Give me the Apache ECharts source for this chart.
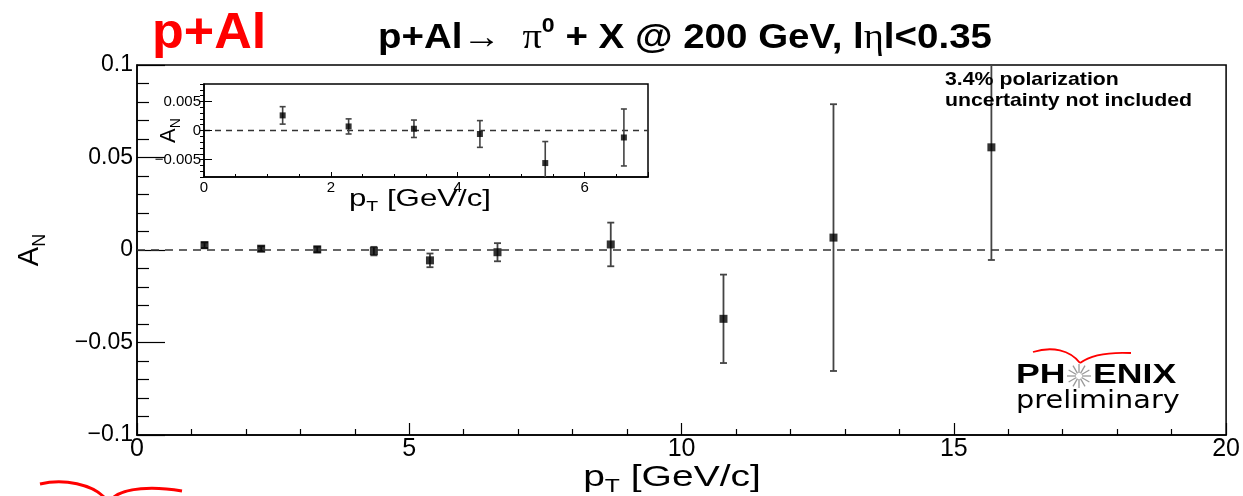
<!DOCTYPE html>
<html>
<head>
<meta charset="utf-8">
<script src="https://cdn.jsdelivr.net/npm/echarts@6/dist/echarts.min.js"></script>
<style>
html,body{margin:0;padding:0;background:#fff;}
#chart{width:1243px;height:496px;}
</style>
</head>
<body>
<div id="chart"></div>
<script>
// ---- data ----
var pt     = [1.24, 2.28, 3.31, 4.35, 5.38, 6.62, 8.70, 10.77, 12.79, 15.69];
var an     = [0.0026, 0.0007, 0.0003, -0.0006, -0.0056, -0.0012, 0.0030, -0.0372, 0.0067, 0.0555];
var anErr  = [0.0015, 0.0013, 0.0015, 0.0023, 0.0037, 0.0049, 0.0118, 0.0239, 0.0721, 0.0609];
var insetCount = 6;                       // first six points shown in the inset
var insetYMajor = [-0.005, 0, 0.005];
var insetYMinor = [-0.008,-0.007,-0.006,-0.005,-0.004,-0.003,-0.002,-0.001,0,0.001,0.002,0.003,0.004,0.005,0.006,0.007,0.008];
var xTitle = '{p|p}{s|T}{p| [GeV/c]}';
var yTitle = '{a|A}{s|N}';

var FONT = '"Liberation Sans", Arial, Helvetica, sans-serif';
function minusFmt(v){ return v < 0 ? '\u2212' + String(Math.abs(v)) : String(v); }

var mainPts = pt.map(function(x,i){ return [x, an[i]]; });
var mainErr = pt.map(function(x,i){ return [x, an[i], anErr[i]]; });
var insPts = mainPts.slice(0, insetCount);
var insErr = mainErr.slice(0, insetCount);

function errRender(cap, width){
  return function(params, api){
    var x = api.value(0), y = api.value(1), e = api.value(2);
    var t = api.coord([x, y + e]), b = api.coord([x, y - e]);
    var st = {stroke:'#444', lineWidth: width};
    return {type:'group', children:[
      {type:'line', shape:{x1:t[0], y1:t[1], x2:b[0], y2:b[1]}, style:st},
      {type:'line', shape:{x1:t[0]-cap, y1:t[1], x2:t[0]+cap, y2:t[1]}, style:st},
      {type:'line', shape:{x1:b[0]-cap, y1:b[1], x2:b[0]+cap, y2:b[1]}, style:st}
    ]};
  };
}

var chart = echarts.init(document.getElementById('chart'), null, {renderer:'canvas'});

// star spokes for PHENIX logo
var star = [];
for (var k = 0; k < 12; k++) {
  var a = k * Math.PI / 6;
  star.push({type:'line', shape:{x1:1079 + 3*Math.cos(a), y1:376 + 3*Math.sin(a), x2:1079 + 12*Math.cos(a), y2:376 + 12*Math.sin(a)}, style:{stroke:'#9a9a9a', lineWidth:1.3}});
}

function subRich(big, small, lh){
  return {p:{font:big + 'px ' + FONT, fill:'#000', lineHeight:lh, verticalAlign:'middle'},
          s:{font:small + 'px ' + FONT, fill:'#000', lineHeight:lh, verticalAlign:'bottom'}};
}

var option = {
  backgroundColor:'#fff',
  animation:false,
  textStyle:{fontFamily:FONT},
  grid:[
    {left:137, right:10, top:65, bottom:61, show:true, borderColor:'#000', borderWidth:1.5, backgroundColor:'#fff'},
    {left:204, top:84, width:444, height:93, show:true, borderColor:'#000', borderWidth:1.5, backgroundColor:'#fff', z:5}
  ],
  xAxis:[
    {gridIndex:0, type:'value', min:0, max:20, interval:5,
     axisLine:{onZero:false, lineStyle:{color:'#000', width:1.5}},
     axisTick:{inside:true, length:12, lineStyle:{color:'#000', width:1.2}},
     minorTick:{show:true, splitNumber:5, length:6, lineStyle:{color:'#000', width:1.2}},
     splitLine:{show:false}, minorSplitLine:{show:false},
     axisLabel:{fontSize:25, color:'#000', margin:2, fontFamily:FONT}},
    {gridIndex:1, type:'value', min:0, max:7, interval:2, z:6,
     axisLine:{onZero:false, lineStyle:{color:'#000', width:1.5}},
     axisTick:{inside:true, length:5, lineStyle:{color:'#000'}},
     minorTick:{show:true, splitNumber:4, length:3, lineStyle:{color:'#000'}},
     splitLine:{show:false},
     axisLabel:{fontSize:15, color:'#000', margin:3, showMaxLabel:false, fontFamily:FONT}}
  ],
  yAxis:[
    {gridIndex:0, type:'value', min:-0.1, max:0.1, interval:0.05,
     axisLine:{onZero:false, lineStyle:{color:'#000', width:1.5}},
     axisTick:{inside:true, length:28, lineStyle:{color:'#000', width:1.2}},
     minorTick:{show:true, splitNumber:5, length:12, lineStyle:{color:'#000', width:1.2}},
     splitLine:{show:false}, minorSplitLine:{show:false},
     axisLabel:{fontSize:23, color:'#000', margin:4, formatter:minusFmt, fontFamily:FONT},
     name:yTitle, nameLocation:'middle', nameGap:88, nameRotate:90, nameMoveOverlap:false,
     nameTextStyle:{rich:{a:{fontSize:29, color:'#000', fontFamily:FONT, lineHeight:38, verticalAlign:'middle'},
                          s:{fontSize:18, color:'#000', fontFamily:FONT, lineHeight:38, verticalAlign:'bottom'}}}},
    {gridIndex:1, type:'value', min:-0.008, max:0.008, z:6,
     axisLine:{onZero:false, lineStyle:{color:'#000', width:1.5}},
     axisTick:{inside:true, length:8, customValues:insetYMajor, lineStyle:{color:'#000'}},
     splitLine:{show:false},
     axisLabel:{fontSize:15, color:'#000', margin:3, customValues:insetYMajor, formatter:minusFmt, fontFamily:FONT},
     name:yTitle, nameLocation:'middle', nameGap:21, nameRotate:90, nameMoveOverlap:false,
     nameTextStyle:{rich:{a:{fontSize:22, color:'#000', fontFamily:FONT, lineHeight:28, verticalAlign:'middle'},
                          s:{fontSize:14, color:'#000', fontFamily:FONT, lineHeight:28, verticalAlign:'bottom'}}}},
    {gridIndex:1, type:'value', min:-0.008, max:0.008, z:6,
     axisLine:{show:false},
     axisTick:{inside:true, length:4, customValues:insetYMinor, lineStyle:{color:'#000'}},
     splitLine:{show:false},
     axisLabel:{show:false}}
  ],
  series:[
    {type:'custom', xAxisIndex:0, yAxisIndex:0, data:mainErr, renderItem:errRender(3.5, 1.8), clip:true, z:3},
    {type:'scatter', xAxisIndex:0, yAxisIndex:0, data:mainPts, symbol:'rect', symbolSize:8,
     itemStyle:{color:'#000'}, z:4, silent:true,
     markLine:{silent:true, symbol:'none', label:{show:false},
               lineStyle:{color:'#333', type:[8,6], width:1.5}, data:[{yAxis:0}]}},
    {type:'custom', xAxisIndex:1, yAxisIndex:1, data:insErr, renderItem:errRender(3, 1.6), clip:true, z:8},
    {type:'scatter', xAxisIndex:1, yAxisIndex:1, data:insPts, symbol:'rect', symbolSize:6,
     itemStyle:{color:'#000'}, z:9, silent:true,
     markLine:{silent:true, symbol:'none', label:{show:false},
               lineStyle:{color:'#333', type:[6,5], width:1.3}, data:[{yAxis:0}]}}
  ],
  graphic:[
    // axis titles for the two x axes (stretched horizontally like the original)
    {type:'text', x:672, y:478, z:20, scaleX:1.3, style:{text:xTitle, align:'center', verticalAlign:'middle', rich:subRich(30, 19, 36)}},
    {type:'text', x:420, y:199, z:20, scaleX:1.3, style:{text:xTitle, align:'center', verticalAlign:'middle', rich:subRich(24, 15, 30)}},
    {type:'text', x:152, y:34, z:20, scaleX:1.04, style:{text:'p+Al', fill:'#ff0000', font:'bold 50px ' + FONT, align:'left', verticalAlign:'middle'}},
    {type:'text', x:685, y:35, z:20, scaleX:1.1, style:{
       text:'{b|p+Al\u2192  }{g|\u03c0}{sup|0}{b| + X @ 200 GeV, l}{g|\u03b7}{b|l<0.35}',
       align:'center', verticalAlign:'middle',
       rich:{
         b:{font:'bold 35px ' + FONT, fill:'#000', lineHeight:42, verticalAlign:'bottom'},
         g:{font:'35px "Liberation Serif", "DejaVu Serif", serif', fill:'#000', lineHeight:42, verticalAlign:'bottom'},
         sup:{font:'bold 21px ' + FONT, fill:'#000', lineHeight:42, verticalAlign:'top', padding:[2,0,0,0]}
       }}},
    {type:'text', x:945, y:80, z:20, scaleX:1.12, style:{text:'3.4% polarization', font:'bold 19px ' + FONT, fill:'#000', align:'left', verticalAlign:'middle'}},
    {type:'text', x:945, y:101, z:20, scaleX:1.12, style:{text:'uncertainty not included', font:'bold 19px ' + FONT, fill:'#000', align:'left', verticalAlign:'middle'}},
    {type:'text', x:1016, y:376, z:20, scaleX:1.32, style:{text:'PH', font:'bold 27px ' + FONT, fill:'#000', align:'left', verticalAlign:'middle'}},
    {type:'text', x:1093, y:376, z:20, scaleX:1.32, style:{text:'ENIX', font:'bold 27px ' + FONT, fill:'#000', align:'left', verticalAlign:'middle'}},
    {type:'text', x:1016, y:401, z:20, scaleX:1.15, style:{text:'preliminary', font:'25px "DejaVu Sans", sans-serif', fill:'#000', align:'left', verticalAlign:'middle'}},
    {type:'group', z:20, children:star},
    {type:'bezierCurve', z:20, shape:{x1:1033, y1:352, cpx1:1052, cpy1:346, cpx2:1070, cpy2:350, x2:1080, y2:363}, style:{stroke:'#ff0000', lineWidth:1.8, fill:null}},
    {type:'bezierCurve', z:20, shape:{x1:1080, y1:363, cpx1:1092, cpy1:354, cpx2:1110, cpy2:352, x2:1131, y2:353}, style:{stroke:'#ff0000', lineWidth:1.8, fill:null}},
    {type:'bezierCurve', z:20, shape:{x1:40, y1:484, cpx1:65, cpy1:478, cpx2:92, cpy2:485, x2:104, y2:497}, style:{stroke:'#ff0000', lineWidth:3, fill:null}},
    {type:'bezierCurve', z:20, shape:{x1:114, y1:497, cpx1:125, cpy1:488, cpx2:152, cpy2:486, x2:182, y2:491}, style:{stroke:'#ff0000', lineWidth:3, fill:null}}
  ]
};
chart.setOption(option);
</script>
</body>
</html>
